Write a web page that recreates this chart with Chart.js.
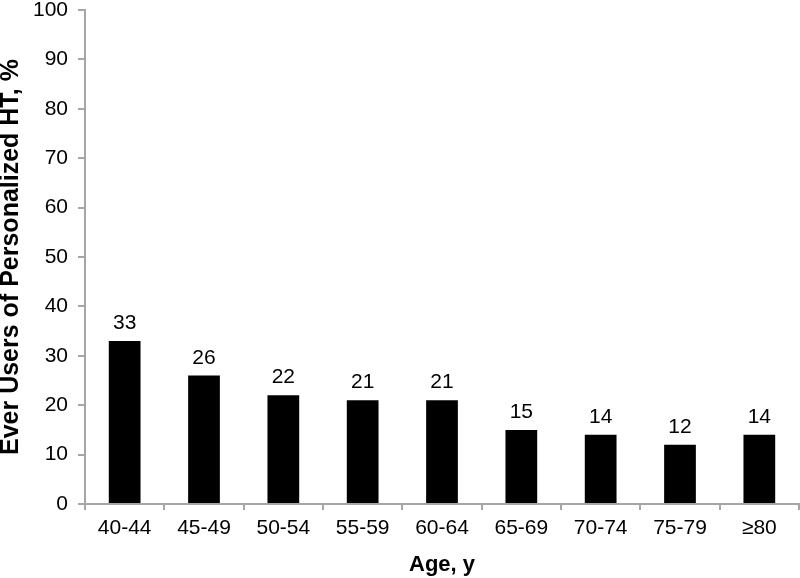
<!DOCTYPE html>
<html>
<head>
<meta charset="utf-8">
<script src="https://cdn.jsdelivr.net/npm/chart.js@4"></script>
<style>
    html, body { margin: 0; padding: 0; background: #fff; }
    #chart { display: block; }
</style>
</head>
<body>
<canvas id="chart" width="800" height="578"></canvas>
<script>
const ageGroups = ['40-44', '45-49', '50-54', '55-59', '60-64', '65-69', '70-74', '75-79', '≥80'];
const everUsers = [33, 26, 22, 21, 21, 15, 14, 12, 14];
const yTicks = [0, 10, 20, 30, 40, 50, 60, 70, 80, 90, 100];

const FONT = '"Liberation Sans", Arial, Helvetica, sans-serif';

// draws the number over each bar
const barLabels = {
    id: 'barLabels',
    afterDatasetsDraw(chart) {
        const ctx = chart.ctx;
        const meta = chart.getDatasetMeta(0);
        ctx.save();
        ctx.fillStyle = '#000';
        ctx.font = '21px ' + FONT;
        ctx.textAlign = 'center';
        ctx.textBaseline = 'alphabetic';
        meta.data.forEach((bar, i) => {
            ctx.fillText(String(everUsers[i]), bar.x, bar.y - 12);
        });
        ctx.restore();
    }
};

const ctx = document.getElementById('chart').getContext('2d');
new Chart(ctx, {
    type: 'bar',
    data: {
        labels: ageGroups,
        datasets: [{
            data: everUsers,
            backgroundColor: '#000',
            borderWidth: 0,
            categoryPercentage: 1,
            barPercentage: 0.4
        }]
    },
    options: {
        responsive: false,
        animation: false,
        layout: { padding: { top: 10, right: 1, left: 0, bottom: 0 } },
        plugins: {
            legend: { display: false },
            tooltip: { enabled: false }
        },
        scales: {
            x: {
                grid: {
                    offset: true,
                    drawOnChartArea: false,
                    drawTicks: true,
                    tickLength: 6,
                    color: '#a6a6a6',
                    lineWidth: 2
                },
                border: { color: '#a6a6a6', width: 2 },
                ticks: {
                    color: '#000',
                    font: { family: FONT, size: 21 },
                    padding: 6,
                    maxRotation: 0
                },
                title: {
                    display: true,
                    text: 'Age, y',
                    color: '#000',
                    font: { family: FONT, size: 22, weight: 'bold' },
                    padding: { top: 0, bottom: 0 }
                },
                afterFit(scale) { scale.height = 74; }
            },
            y: {
                min: 0,
                max: 100,
                afterBuildTicks(scale) { scale.ticks = yTicks.map(v => ({ value: v })); },
                grid: {
                    drawOnChartArea: false,
                    drawTicks: true,
                    tickLength: 7,
                    color: '#a6a6a6',
                    lineWidth: 2
                },
                border: { color: '#a6a6a6', width: 2 },
                ticks: {
                    color: '#000',
                    font: { family: FONT, size: 21, lineHeight: 1 },
                    padding: 10
                },
                title: {
                    display: true,
                    text: 'Ever Users of Personalized HT, %',
                    color: '#000',
                    font: { family: FONT, size: 25, weight: 'bold', lineHeight: 0.9 },
                    padding: { top: 0, bottom: 0 }
                },
                afterFit(scale) {
                    scale.width = 85;
                    scale.paddingTop = 0;
                    scale.paddingBottom = 0;
                }
            }
        }
    },
    plugins: [barLabels]
});
</script>
</body>
</html>
